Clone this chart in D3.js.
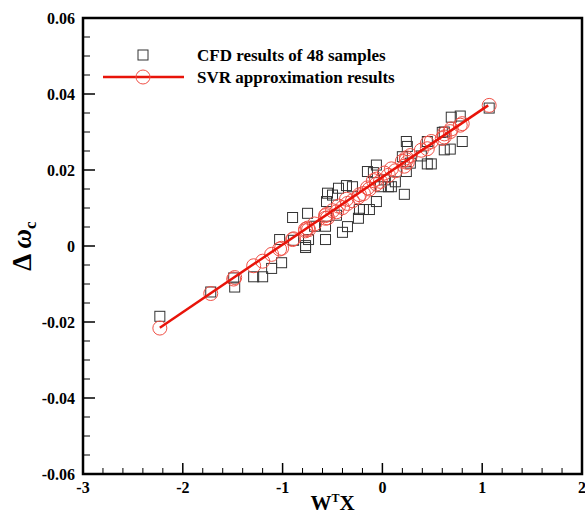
<!DOCTYPE html>
<html>
<head>
<meta charset="utf-8">
<script src="https://cdn.jsdelivr.net/npm/d3@7"></script>
<style>
    body { margin: 0; background: #fff; }
    text { font-family: "Liberation Serif", "Times New Roman", serif; font-weight: bold; }
</style>
</head>
<body>
<div id="chart"></div>
<script>
// CFD samples (squares)
const cfd_x = [-2.23, -1.72, -1.49, -1.48, -1.29, -1.20, -1.11, -1.01, -1.03, -0.90, -0.89, -0.77, -0.77, -0.75,
    -0.74, -0.68, -0.57, -0.57, -0.56, -0.55, -0.50, -0.46, -0.44, -0.40, -0.36, -0.30, -0.35, -0.24, -0.23,
    -0.19, -0.13, -0.15, -0.06, -0.06, -0.09, -0.02, 0.06, 0.09, 0.02, 0.13, 0.20, 0.22, 0.24, 0.25, 0.24,
    0.28, 0.39, 0.45, 0.45, 0.49, 0.60, 0.62, 0.62, 0.68, 0.69, 0.78, 0.80, 1.07];
const cfd_y = [-0.0185, -0.0121, -0.0084, -0.0108, -0.0081, -0.0081, -0.0059, -0.0044, 0.0017, 0.0075, 0.0015,
    -0.0004, 0.0001, 0.0086, 0.0017, 0.0052, 0.0017, 0.0052, 0.0117, 0.0139, 0.0134, 0.0081, 0.0152, 0.0036,
    0.0159, 0.0156, 0.0051, 0.0073, 0.0096, 0.0096, 0.0096, 0.0196, 0.0213, 0.0117, 0.0193, 0.0156, 0.0156,
    0.0156, 0.0174, 0.0169, 0.0235, 0.0136, 0.0275, 0.0262, 0.0196, 0.0218, 0.0237, 0.0275, 0.0216, 0.0216,
    0.0299, 0.0300, 0.0253, 0.0255, 0.0339, 0.0342, 0.0275, 0.0363];

// SVR approximation (circles), same inputs
const svr_y = [-0.0216, -0.0125, -0.0087, -0.0083, -0.0052, -0.0040, -0.0022, -0.0006, -0.0008, 0.0017, 0.0019,
    0.0040, 0.0044, 0.0047, 0.0043, 0.0058, 0.0080, 0.0073, 0.0083, 0.0074, 0.0093, 0.0090, 0.0105, 0.0101,
    0.0123, 0.0119, 0.0112, 0.0129, 0.0135, 0.0138, 0.0150, 0.0153, 0.0176, 0.0163, 0.0172, 0.0170, 0.0186,
    0.0203, 0.0192, 0.0198, 0.0223, 0.0210, 0.0232, 0.0220, 0.0227, 0.0238, 0.0252, 0.0270, 0.0256, 0.0275,
    0.0283, 0.0295, 0.0287, 0.0301, 0.0308, 0.0318, 0.0322, 0.0370];

// SVR line
const line_x = [-2.23, 1.06];
const line_y = [-0.0215, 0.0370];

const x_ticks = [-3, -2, -1, 0, 1, 2];
const y_ticks = [-0.06, -0.04, -0.02, 0, 0.02, 0.04, 0.06];
const y_tick_labels = ["-0.06", "-0.04", "-0.02", "0", "0.02", "0.04", "0.06"];

const legend_labels = ["CFD results of 48 samples", "SVR approximation results"];

const width = 585, height = 515;
const margin = {top: 18, right: 3, bottom: 41, left: 83};

const svg = d3.select("#chart")
    .append("svg")
    .attr("width", width)
    .attr("height", height);

var xScale = d3.scaleLinear()
    .domain([-3, 2])
    .range([margin.left, width - margin.right]);

var yScale = d3.scaleLinear()
    .domain([-0.06, 0.06])
    .range([height - margin.bottom, margin.top]);

/* ticks */
var x_minor = d3.range(-3, 2.0001, 0.2).filter(function(d){ return Math.abs(d - Math.round(d)) > 1e-6; });
var y_minor = d3.range(-0.06, 0.06001, 0.005).filter(function(d){ return Math.abs(d / 0.02 - Math.round(d / 0.02)) > 1e-6; });

var ticks = svg.append("g").attr("stroke", "#000").attr("stroke-width", 1.5);

ticks.selectAll(".xmaj").data(x_ticks).enter().append("line")
    .attr("x1", function(d){ return xScale(d); })
    .attr("x2", function(d){ return xScale(d); })
    .attr("y1", yScale(-0.06))
    .attr("y2", yScale(-0.06) - 11);

ticks.selectAll(".xmin").data(x_minor).enter().append("line")
    .attr("stroke-width", 1)
    .attr("x1", function(d){ return xScale(d); })
    .attr("x2", function(d){ return xScale(d); })
    .attr("y1", yScale(-0.06))
    .attr("y2", yScale(-0.06) - 6);

ticks.selectAll(".ymaj").data(y_ticks).enter().append("line")
    .attr("x1", xScale(-3))
    .attr("x2", xScale(-3) + 12)
    .attr("y1", function(d){ return yScale(d); })
    .attr("y2", function(d){ return yScale(d); });

ticks.selectAll(".ymin").data(y_minor).enter().append("line")
    .attr("stroke-width", 1)
    .attr("x1", xScale(-3))
    .attr("x2", xScale(-3) + 7)
    .attr("y1", function(d){ return yScale(d); })
    .attr("y2", function(d){ return yScale(d); });

/* frame */
svg.append("rect")
    .attr("x", xScale(-3))
    .attr("y", yScale(0.06))
    .attr("width", xScale(2) - xScale(-3))
    .attr("height", yScale(-0.06) - yScale(0.06))
    .attr("fill", "none")
    .attr("stroke", "#000")
    .attr("stroke-width", 2.5);

/* tick labels */
svg.selectAll(".xlab").data(x_ticks).enter().append("text")
    .attr("x", function(d){ return xScale(d); })
    .attr("y", yScale(-0.06) + 19)
    .attr("text-anchor", "middle")
    .attr("font-size", 16)
    .text(function(d){ return d; });

svg.selectAll(".ylab").data(y_ticks).enter().append("text")
    .attr("x", xScale(-3) - 8)
    .attr("y", function(d){ return yScale(d) + 6; })
    .attr("text-anchor", "end")
    .attr("font-size", 16)
    .text(function(d, i){ return y_tick_labels[i]; });

/* axis titles */
var xt = svg.append("text")
    .attr("x", (xScale(-3) + xScale(2)) / 2)
    .attr("y", 510)
    .attr("text-anchor", "middle")
    .attr("font-size", 21);
xt.append("tspan").text("W");
xt.append("tspan").attr("font-size", 12).attr("dy", -8).text("T");
xt.append("tspan").attr("dy", 8).text("X");

var yt = svg.append("text")
    .attr("transform", "translate(31," + ((yScale(0.06) + yScale(-0.06)) / 2) + ") rotate(-90)")
    .attr("text-anchor", "middle")
    .attr("font-size", 27);
yt.append("tspan").text("\u0394 ");
yt.append("tspan").attr("font-style", "italic").text("\u03c9");
yt.append("tspan").attr("font-size", 17).attr("dy", 5).text("c");

/* data */
var plot = svg.append("g");

plot.selectAll(".sq").data(cfd_x).enter().append("rect")
    .attr("class", "sq")
    .attr("x", function(d){ return xScale(d) - 5; })
    .attr("y", function(d, i){ return yScale(cfd_y[i]) - 5; })
    .attr("width", 10)
    .attr("height", 10)
    .attr("fill", "none")
    .attr("stroke", "#333")
    .attr("stroke-width", 1);

plot.selectAll(".circ").data(cfd_x).enter().append("circle")
    .attr("class", "circ")
    .attr("cx", function(d){ return xScale(d); })
    .attr("cy", function(d, i){ return yScale(svr_y[i]); })
    .attr("r", 7)
    .attr("fill", "none")
    .attr("stroke", "#f05046")
    .attr("stroke-width", 1);

var lineGen = d3.line()
    .x(function(d){ return xScale(d); })
    .y(function(d, i){ return yScale(line_y[i]); });

plot.append("path")
    .datum(line_x)
    .attr("d", lineGen)
    .attr("fill", "none")
    .attr("stroke", "#e8140a")
    .attr("stroke-width", 2.5);

/* legend */
var legend = svg.append("g");
legend.append("rect")
    .attr("x", 138).attr("y", 50).attr("width", 10).attr("height", 10)
    .attr("fill", "none").attr("stroke", "#333");
legend.append("line")
    .attr("x1", 103).attr("x2", 184).attr("y1", 77).attr("y2", 77)
    .attr("stroke", "#e8140a").attr("stroke-width", 2.5);
legend.append("circle")
    .attr("cx", 143).attr("cy", 77).attr("r", 7)
    .attr("fill", "none").attr("stroke", "#f05046");
legend.selectAll(".lg").data(legend_labels).enter().append("text")
    .attr("x", 197)
    .attr("y", function(d, i){ return 61 + i * 22; })
    .attr("font-size", 17)
    .text(function(d){ return d; });
</script>
</body>
</html>
